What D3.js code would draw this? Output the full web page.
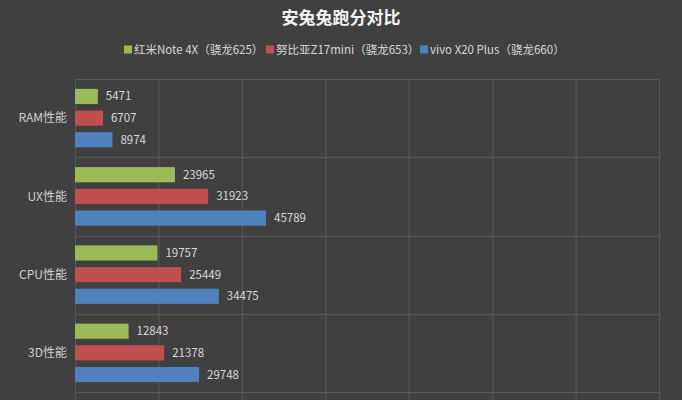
<!DOCTYPE html>
<html>
<head>
<meta charset="utf-8">
<script src="https://cdn.jsdelivr.net/npm/d3@7"></script>
<style>
  html, body { margin: 0; padding: 0; background: #404040; }
  svg { display: block; font-family: "Noto Sans CJK SC", "Noto Sans", sans-serif; }
</style>
</head>
<body>
<svg id="chart" width="682" height="400"></svg>
<script>
(function(d3) {
    "use strict";

    var categories = ["RAM性能", "UX性能", "CPU性能", "3D性能"];
    var seriesNames = ["红米Note 4X（骁龙625）", "努比亚Z17mini（骁龙653）", "vivo X20 Plus（骁龙660）"];
    var redmiValues = [5471, 23965, 19757, 12843];
    var nubiaValues = [6707, 31923, 25449, 21378];
    var vivoValues = [8974, 45789, 34475, 29748];
    var xTicks = [0, 20000, 40000, 60000, 80000, 100000, 120000, 140000];
    var title = "安兔兔跑分对比";

    var colors = ["#9bbb59", "#c0504d", "#4f81bd"];

    var margin = {top: 79, right: 23, bottom: 0, left: 75},
        width = 682 - margin.left - margin.right,
        height = 400 - margin.top - margin.bottom;

    var series = [redmiValues, nubiaValues, vivoValues];
    var rows = categories.map(function(c, i) {
        return {
            name: c,
            values: series.map(function(s, j) { return {key: seriesNames[j], value: s[i], idx: j}; })
        };
    });

    var svg = d3.select("#chart");

    // title
    svg.append("text")
        .attr("x", 341)
        .attr("y", 24)
        .attr("text-anchor", "middle")
        .attr("fill", "#f2f2f2")
        .style("font-size", "17px")
        .style("font-weight", "bold")
        .text(title);

    // legend
    var legend = svg.append("g").attr("class", "legend");
    var legendX = [124, 266, 420];
    seriesNames.forEach(function(n, i) {
        var g = legend.append("g").attr("transform", "translate(" + legendX[i] + ",50)");
        g.append("rect")
            .attr("x", 0).attr("y", -4.5)
            .attr("width", 8).attr("height", 8)
            .attr("fill", colors[i]);
        g.append("text")
            .attr("x", 10).attr("y", 0)
            .attr("dy", "0.35em")
            .attr("fill", "#d9d9d9")
            .style("font-size", "11.5px")
            .text(n);
    });

    var plotH = 392 - margin.top; // gridded area

    var x = d3.scaleLinear()
        .domain([0, 140000])
        .range([0, width]);

    var y0 = d3.scaleBand()
        .domain(categories)
        .range([0, plotH])
        .padding(0);

    var y1 = d3.scaleBand()
        .domain(seriesNames)
        .range([(y0.bandwidth() - 58.5) / 2, (y0.bandwidth() + 58.5) / 2])
        .paddingInner(0.3);

    var chart = svg.append("g")
        .attr("transform", "translate(" + margin.left + "," + margin.top + ")");

    // vertical grid (runs past the bottom line, the picture is cropped there)
    chart.append("g")
        .attr("class", "grid x")
        .attr("transform", "translate(0," + height + ")")
        .call(d3.axisBottom(x).tickValues(xTicks).tickSize(-height).tickFormat(""))
        .call(function(g) { g.select(".domain").remove(); })
        .selectAll("line")
        .attr("stroke", "#575757");

    // horizontal grid
    var hLines = categories.map(function(c) { return y0(c); }).concat([plotH]);
    chart.append("g")
        .attr("class", "grid y")
        .selectAll("line")
        .data(hLines)
        .join("line")
        .attr("x1", 0)
        .attr("x2", width)
        .attr("y1", function(d) { return Math.round(d) + 0.5; })
        .attr("y2", function(d) { return Math.round(d) + 0.5; })
        .attr("stroke", "#575757");

    // category labels
    chart.append("g")
        .selectAll("text")
        .data(categories)
        .join("text")
        .attr("x", -8)
        .attr("y", function(d) { return y0(d) + y0.bandwidth() / 2; })
        .attr("dy", "0.35em")
        .attr("text-anchor", "end")
        .attr("fill", "#d0d0d0")
        .style("font-size", "12px")
        .text(function(d) { return d; });

    var groups = chart.selectAll(".group")
        .data(rows)
        .join("g")
        .attr("class", "group")
        .attr("transform", function(d) { return "translate(0," + y0(d.name) + ")"; });

    groups.selectAll("rect")
        .data(function(d) { return d.values; })
        .join("rect")
        .attr("x", x(0))
        .attr("y", function(d) { return y1(d.key); })
        .attr("height", y1.bandwidth())
        .attr("width", function(d) { return x(d.value) - x(0); })
        .attr("fill", function(d) { return colors[d.idx]; });

    groups.selectAll("text.val")
        .data(function(d) { return d.values; })
        .join("text")
        .attr("class", "val")
        .attr("x", function(d) { return x(d.value) + 8; })
        .attr("y", function(d) { return y1(d.key) + y1.bandwidth() / 2; })
        .attr("dy", "0.35em")
        .attr("fill", "#d9d9d9")
        .style("font-size", "11.5px")
        .text(function(d) { return d.value; });

})(d3);
</script>
</body>
</html>
